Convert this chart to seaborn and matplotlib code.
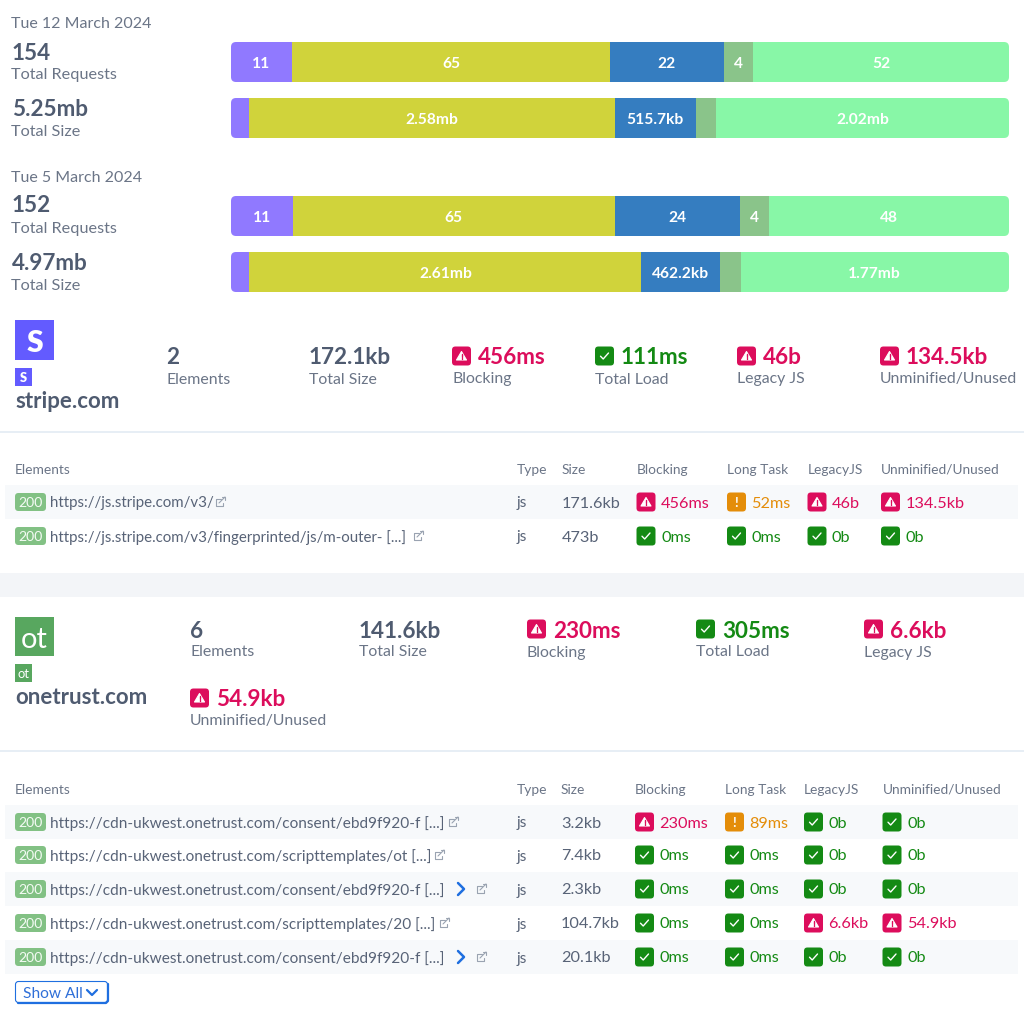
import pandas as pd
import matplotlib
matplotlib.use('Agg')
import matplotlib.pyplot as plt
import seaborn as sns
from matplotlib.patches import FancyBboxPatch, Polygon, Rectangle

sns.set_theme(style='white')
plt.rcParams['font.family'] = ['Lato', 'DejaVu Sans']

W, H = 1024, 1022

# share of each bar, in percent
segment_colors = ['#9079ff', '#d0d33b', '#357dc0', '#8ac48a', '#88f7a7']
requests_mar12 = [7.85, 40.85, 14.65, 3.75, 32.9]
size_mar12 = [2.25, 47.05, 10.5, 2.6, 37.6]
requests_mar5 = [8.0, 41.3, 16.1, 3.75, 30.85]
size_mar5 = [2.35, 50.4, 10.05, 2.7, 34.5]
requests_mar12_labels = ['11', '65', '22', '4', '52']
size_mar12_labels = ['', '2.58mb', '515.7kb', '', '2.02mb']
requests_mar5_labels = ['11', '65', '24', '4', '48']
size_mar5_labels = ['', '2.61mb', '462.2kb', '', '1.77mb']

stripe_urls = ['https://js.stripe.com/v3/',
               'https://js.stripe.com/v3/fingerprinted/js/m-outer- [...]']
stripe_sizes = ['171.6kb', '473b']
stripe_blocking = [('bad', '456ms'), ('ok', '0ms')]
stripe_long = [('warn', '52ms'), ('ok', '0ms')]
stripe_legacy = [('bad', '46b'), ('ok', '0b')]
stripe_unmin = [('bad', '134.5kb'), ('ok', '0b')]

onetrust_urls = ['https://cdn-ukwest.onetrust.com/consent/ebd9f920-f [...]',
                 'https://cdn-ukwest.onetrust.com/scripttemplates/ot [...]',
                 'https://cdn-ukwest.onetrust.com/consent/ebd9f920-f [...]',
                 'https://cdn-ukwest.onetrust.com/scripttemplates/20 [...]',
                 'https://cdn-ukwest.onetrust.com/consent/ebd9f920-f [...]']
onetrust_sizes = ['3.2kb', '7.4kb', '2.3kb', '104.7kb', '20.1kb']
onetrust_blocking = [('bad', '230ms'), ('ok', '0ms'), ('ok', '0ms'), ('ok', '0ms'), ('ok', '0ms')]
onetrust_long = [('warn', '89ms'), ('ok', '0ms'), ('ok', '0ms'), ('ok', '0ms'), ('ok', '0ms')]
onetrust_legacy = [('ok', '0b'), ('ok', '0b'), ('ok', '0b'), ('bad', '6.6kb'), ('ok', '0b')]
onetrust_unmin = [('ok', '0b'), ('ok', '0b'), ('ok', '0b'), ('bad', '54.9kb'), ('ok', '0b')]

DARK = '#4f5b70'
GREY = '#6b7587'
URLC = '#586377'
RED = '#dc0d5c'
GREEN = '#148a14'
ORANGE = '#e48d09'
BLUE = '#1f6fe0'
LINE = '#e3ebf4'
BAND = '#f7f9fb'
STATUS = {'bad': RED, 'ok': GREEN, 'warn': ORANGE}

fig = plt.figure(figsize=(W / 100, H / 100), dpi=100, facecolor='white')
page = fig.add_axes([0, 0, 1, 1])
page.set_xlim(0, W)
page.set_ylim(H, 0)
page.axis('off')


def txt(x, y, s, px, color=URLC, weight='normal', ha='left'):
    page.text(x, y, s, fontsize=px * 0.72, color=color, fontweight=weight,
              ha=ha, va='center_baseline')


def box(x0, y0, x1, y1, color, radius=0.0, **kws):
    if radius:
        p = FancyBboxPatch((x0, y0), x1 - x0, y1 - y0, facecolor=color, edgecolor='none',
                           boxstyle='round,pad=0,rounding_size=%g' % radius, **kws)
    else:
        p = Rectangle((x0, y0), x1 - x0, y1 - y0, facecolor=color, edgecolor='none', **kws)
    page.add_patch(p)
    return p


def stacked_bar(top, values, labels):
    left_px, width_px, height_px = 231, 778, 40
    ax = fig.add_axes([left_px / W, 1 - (top + height_px) / H, width_px / W, height_px / H])
    ax.patch.set_alpha(0)
    start = 0
    for val, col, lab in zip(values, segment_colors, labels):
        frame = pd.DataFrame({'share': [val], 'row': ['bar']})
        before = len(ax.containers)
        sns.barplot(data=frame, x='share', y='row', left=start, color=col, saturation=1,
                    width=1, orient='h', linewidth=0, ax=ax)
        for t in ax.bar_label(ax.containers[before], labels=[lab], label_type='center',
                              color='white', fontsize=15.5 * 0.72, fontweight='bold'):
            t.set_va('center_baseline')
        start += val
    ax.set_xlim(0, sum(values))
    ax.set_ylim(0.5, -0.5)
    ax.axis('off')
    clip = FancyBboxPatch((left_px, top), width_px, height_px, transform=page.transData,
                          boxstyle='round,pad=0,rounding_size=5')
    for bar in ax.patches:
        bar.set_clip_path(clip)


def badge(x, y, kind, s=19):
    col = STATUS[kind]
    box(x, y - s / 2, x + s, y + s / 2, col, radius=s * 0.18, zorder=3)
    k = s / 19
    if kind == 'bad':
        page.add_patch(Polygon([(x + s / 2, y - 4.5 * k), (x + s / 2 + 5 * k, y + 4 * k),
                                (x + s / 2 - 5 * k, y + 4 * k)], facecolor='white',
                               edgecolor='white', lw=0.8, joinstyle='round', zorder=4))
        page.plot([x + s / 2] * 2, [y - 1.5 * k, y + 1 * k], color=col, lw=1, zorder=5)
        page.plot([x + s / 2] * 2, [y + 2 * k, y + 3 * k], color=col, lw=1, zorder=5)
    elif kind == 'ok':
        page.plot([x + 5.5 * k, x + 8.2 * k, x + 13.5 * k], [y + 0.2 * k, y + 3 * k, y - 3 * k],
                  color='white', lw=1, zorder=4)
    else:
        page.text(x + s / 2, y, '!', color='white', fontsize=13 * 0.72, fontweight='bold',
                  ha='center', va='center_baseline', zorder=4)


def ext_icon(x, y):
    c = '#9aa3b1'
    page.plot([x + 5, x, x, x + 7, x + 7], [y - 3, y - 3, y + 4, y + 4, y + 1], color=c, lw=0.8)
    page.plot([x + 3, x + 9], [y + 1, y - 5], color=c, lw=0.8)
    page.plot([x + 6, x + 9, x + 9], [y - 5, y - 5, y - 2], color=c, lw=0.8)


def chevron(x, y):
    page.plot([x, x + 6, x], [y - 6, y, y + 6], color=BLUE, lw=1.8, solid_capstyle='round',
              solid_joinstyle='round')


def status_200(y):
    box(15, y - 9, 46, y + 9, '#82c184', radius=3.5)
    txt(30.5, y, '200', 14, color='#f4fbf4', ha='center')


def metric(x, y, value, label, kind=None):
    if kind:
        badge(x, y, kind, s=19)
        txt(x + 26, y, value, 22.5, color=STATUS[kind], weight='bold')
    else:
        txt(x, y, value, 22.5, color=DARK, weight='bold')
    txt(x, y + 22, label, 15.9, color=GREY)


def status_cell(x, y, item):
    kind, value = item
    badge(x, y, kind)
    txt(x + 24.5, y, value, 16.3, color=STATUS[kind])


def table(header_y, row_ys, band_rows, urls, sizes, blocking, longtask, legacy, unmin,
          cols, ext_xs, url_px=15.4, chevrons=()):
    for x, name in zip([15, 517, cols[0]] + list(cols[1:]),
                       ['Elements', 'Type', 'Size', 'Blocking', 'Long Task', 'LegacyJS',
                        'Unminified/Unused']):
        txt(x, header_y, name, 13.8, color=GREY)
    for i, y in enumerate(row_ys):
        if i in band_rows:
            box(5, y - 16.5, 1018, y + 17, BAND)
        status_200(y)
        txt(50, y, urls[i], url_px, color=URLC)
        ext_icon(ext_xs[i], y)
        if i in chevrons:
            chevron(458, y)
        txt(517, y, 'js', 15.4, color=URLC)
        txt(cols[0], y, sizes[i], 16.3, color=URLC)
        status_cell(cols[1], y, blocking[i])
        status_cell(cols[2], y, longtask[i])
        status_cell(cols[3], y, legacy[i])
        status_cell(cols[4], y, unmin[i])


# summary block
txt(11, 23, 'Tue 12 March 2024', 16, color=GREY)
txt(12, 51, '154', 22.5, color=DARK, weight='bold')
txt(11, 74, 'Total Requests', 16.3, color=GREY)
txt(12, 107, '5.25mb', 22.5, color=DARK, weight='bold')
txt(11, 130, 'Total Size', 16.3, color=GREY)
txt(11, 177, 'Tue 5 March 2024', 16, color=GREY)
txt(12, 204, '152', 22.5, color=DARK, weight='bold')
txt(11, 228, 'Total Requests', 16.3, color=GREY)
txt(12, 261, '4.97mb', 22.5, color=DARK, weight='bold')
txt(11, 284, 'Total Size', 16.3, color=GREY)

stacked_bar(42, requests_mar12, requests_mar12_labels)
stacked_bar(98, size_mar12, size_mar12_labels)
stacked_bar(196, requests_mar5, requests_mar5_labels)
stacked_bar(252, size_mar5, size_mar5_labels)

# stripe card
box(15, 320, 54, 360, '#635bff')
page.text(34.5, 340, 'S', color='white', fontsize=30 * 0.72, fontweight='heavy', ha='center', va='center_baseline')
box(15, 368, 32, 386, '#635bff')
page.text(23.5, 377, 'S', color='white', fontsize=13 * 0.72, fontweight='heavy', ha='center', va='center_baseline')
txt(15, 400, 'stripe.com', 22.3, color=DARK, weight='bold')
metric(166, 356, '2', 'Elements')
metric(309, 356, '172.1kb', 'Total Size')
metric(452, 356, '456ms', 'Blocking', 'bad')
metric(595, 356, '111ms', 'Total Load', 'ok')
metric(737, 356, '46b', 'Legacy JS', 'bad')
metric(880, 356, '134.5kb', 'Unminified/Unused', 'bad')
page.plot([0, W], [432, 432], color=LINE, lw=1.2)
table(469, [502, 536], [0], stripe_urls, stripe_sizes, stripe_blocking, stripe_long,
      stripe_legacy, stripe_unmin, [562, 636.5, 727, 807.5, 881], [216, 414], url_px=15.0)

# gap between the cards
box(0, 573, W, 597, '#f3f5f8')

# onetrust card
box(15, 617, 54, 656, '#58a75f')
page.text(34.5, 637, 'ot', color='white', fontsize=29 * 0.72, ha='center', va='center_baseline')
box(15, 664, 32, 682, '#58a75f')
page.text(23.5, 673, 'ot', color='white', fontsize=13 * 0.72, ha='center', va='center_baseline')
txt(15, 696, 'onetrust.com', 22.3, color=DARK, weight='bold')
metric(190, 629, '6', 'Elements')
metric(359, 629, '141.6kb', 'Total Size')
metric(527, 629, '230ms', 'Blocking', 'bad')
metric(696, 629, '305ms', 'Total Load', 'ok')
metric(864, 629, '6.6kb', 'Legacy JS', 'bad')
metric(190, 698, '54.9kb', 'Unminified/Unused', 'bad')
page.plot([0, W], [751.5, 751.5], color=LINE, lw=1.2)
table(789, [822, 855, 889, 923, 957], [0, 2, 4], onetrust_urls, onetrust_sizes,
      onetrust_blocking, onetrust_long, onetrust_legacy, onetrust_unmin,
      [561, 635, 725, 804, 882.5], [449, 435, 477, 440, 477], chevrons=(2, 4))

# show all button
btn = FancyBboxPatch((15.5, 981.5), 92, 21, facecolor='white', edgecolor=BLUE, lw=0.8,
                     boxstyle='round,pad=0,rounding_size=3')
page.add_patch(btn)
page.plot([18, 106, 108, 108], [1003, 1003, 1001, 984], color=BLUE, lw=1.6)
txt(23, 992, 'Show All', 15.5, color='#2f6fd8')
page.plot([87, 92, 97], [990, 995, 990], color=BLUE, lw=1.6, solid_capstyle='round')

fig.savefig('out.png', dpi=100)
